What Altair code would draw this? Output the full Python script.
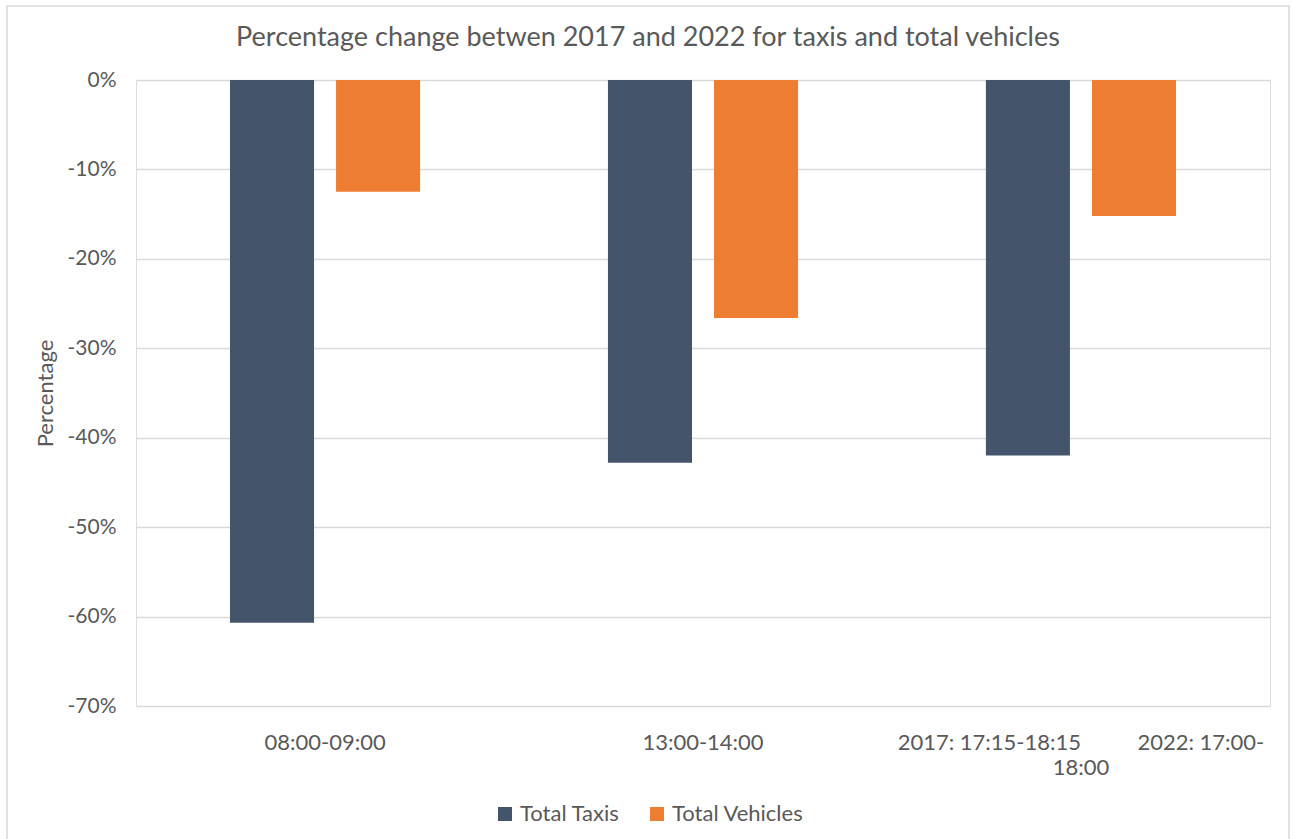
import altair as alt
import pandas as pd

categories = ["08:00-09:00", "13:00-14:00", "2017: 17:15-18:15 2022: 17:00-18:00"]
series = ["Total Taxis", "Total Vehicles"]
taxis = [-60.7, -42.8, -42.0]
vehicles = [-12.5, -26.6, -15.2]
y_ticks = [0, -10, -20, -30, -40, -50, -60, -70]
third_label_lines = ["2017: 17:15-18:15" + "\u00a0" * 10 + "2022: 17:00-", "18:00"]

rows = []
for c, t, v in zip(categories, taxis, vehicles):
    rows.append({"Category": c, "Series": series[0], "Value": t})
    rows.append({"Category": c, "Series": series[1], "Value": v})
df = pd.DataFrame(rows)

FONT = "Lato"
TXT = "#595959"

label_expr = (
    "datum.label == '" + categories[2] + "' ? ['" + third_label_lines[0] + "', '"
    + third_label_lines[1] + "'] : datum.label"
)

bars = alt.Chart(df).mark_bar().encode(
    x=alt.X(
        "Category:N",
        sort=categories,
        title=None,
        scale=alt.Scale(paddingInner=0.497, paddingOuter=0.2487),
        axis=alt.Axis(
            labelAngle=0, domain=False, ticks=False, labelPadding=26,
            labelFontSize=22, labelColor=TXT, labelFont=FONT,
            labelExpr=label_expr, labelLineHeight=25, labelLimit=600,
            grid=False,
        ),
    ),
    xOffset=alt.XOffset("Series:N", sort=series,
                        scale=alt.Scale(paddingInner=0.2075, paddingOuter=0)),
    y=alt.Y(
        "Value:Q",
        title="Percentage",
        scale=alt.Scale(domain=[-70, 0], nice=False),
        axis=alt.Axis(
            values=y_ticks, labelExpr="datum.value + '%'",
            domain=False, ticks=False, labelPadding=20,
            labelFontSize=21, labelColor=TXT, labelFont=FONT,
            titleFontSize=22, titleColor=TXT, titleFont=FONT, titleFontWeight="normal",
            titleX=-91, titleY=313, titleAngle=-90, titleAlign="center",
            titleBaseline="middle",
            grid=True, gridColor="#D9D9D9", gridWidth=1.3,
        ),
    ),
    color=alt.Color(
        "Series:N",
        sort=series,
        scale=alt.Scale(domain=series, range=["#44546A", "#ED7D31"]),
        legend=alt.Legend(
            title=None, orient="none", direction="horizontal",
            legendX=358, legendY=723,
            symbolType="square", symbolSize=196, symbolStrokeWidth=0,
            labelFontSize=22, labelColor=TXT, labelFont=FONT,
            labelOffset=4, columnPadding=26,
        ),
    ),
)

border = alt.Chart(alt.Data(values=[{}])).mark_rect(
    filled=False, stroke="#D9D9D9", strokeWidth=1.5
).encode(
    x=alt.value(-129), x2=alt.value(1153), y=alt.value(-74), y2=alt.value(760)
)

chart = alt.layer(border, bars).properties(
    width=1134,
    height=626,
    title=alt.TitleParams(
        "Percentage change betwen 2017 and 2022 for taxis and total vehicles",
        font=FONT, fontSize=27, color=TXT, fontWeight="normal",
        anchor="middle", dx=-55, offset=-47,
    ),
    padding={"left": 136, "top": 80, "right": 23, "bottom": 133},
    autosize=alt.AutoSizeParams(type="none"),
).configure_view(stroke=None).configure(background="white")

chart.save("out.html", embed_options={"renderer": "svg", "actions": False})
